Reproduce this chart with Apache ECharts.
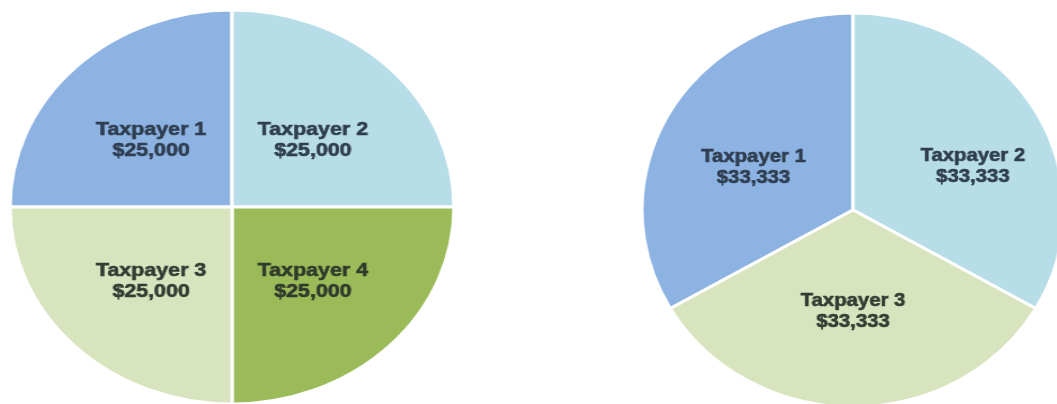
<!DOCTYPE html>
<html>
<head>
<meta charset="utf-8">
<script src="https://cdn.jsdelivr.net/npm/echarts@6/dist/echarts.min.js"></script>
<style>
  html, body { margin: 0; padding: 0; background: #ffffff; }
  body { width: 1057px; height: 404px; position: relative; overflow: hidden; }
  .pie { position: absolute; top: 0; width: 400px; height: 404px; transform-origin: 50% 50%; }
  #left { left: 32px; transform: scaleX(1.127); }
  #right { left: 653px; transform: scaleX(1.071); }
</style>
</head>
<body>
<div id="left" class="pie"></div>
<div id="right" class="pie"></div>
<script>
// Left chart: four taxpayers (clockwise display order from top-left)
const leftNames = ['Taxpayer 1', 'Taxpayer 2', 'Taxpayer 4', 'Taxpayer 3'];
const leftValues = [25000, 25000, 25000, 25000];

// Right chart: three taxpayers
const rightNames = ['Taxpayer 1', 'Taxpayer 2', 'Taxpayer 3'];
const rightValues = [33333, 33333, 33333];

// Styles (kept apart from data)
const leftStyle = {
  colors: ['#8db3e2', '#b7dde8', '#9bbb59', '#d7e4bd'],
  labelColors: ['#2e3d4f', '#2e3d4f', '#2f3a2c', '#333b33'],
  offsets: [[0, 5], [0, 5], [0, 2], [0, 2]]
};
const rightStyle = {
  colors: ['#8db3e2', '#b7dde8', '#d7e4bd'],
  labelColors: ['#2e3d4f', '#2e3d4f', '#333b33'],
  offsets: [[-5, 8], [24, 7], [0, 0]]
};

function fmt(v) { return '$' + v.toLocaleString('en-US'); }

function buildOption(names, values, style, centerY, startAngle) {
  return {
    backgroundColor: '#ffffff',
    animation: false,
    series: [{
      type: 'pie',
      center: ['50%', centerY],
      radius: 197,
      startAngle: startAngle,
      clockwise: true,
      avoidLabelOverlap: false,
      itemStyle: { borderColor: '#ffffff', borderWidth: 3 },
      label: {
        show: true,
        position: 'inside',
        fontFamily: 'Liberation Sans, Arial, sans-serif',
        fontWeight: 'bold',
        fontSize: 19,
        lineHeight: 21,
        textBorderWidth: 0.6,
        formatter: p => p.name + '\n' + fmt(p.value)
      },
      labelLine: { show: false },
      emphasis: { disabled: true },
      data: names.map((n, i) => ({
        name: n,
        value: values[i],
        itemStyle: { color: style.colors[i] },
        label: {
          color: style.labelColors[i],
          textBorderColor: style.labelColors[i],
          offset: style.offsets[i]
        }
      }))
    }]
  };
}

const leftChart = echarts.init(document.getElementById('left'), null, { renderer: 'canvas' });
leftChart.setOption(buildOption(leftNames, leftValues, leftStyle, 207, 180));

const rightChart = echarts.init(document.getElementById('right'), null, { renderer: 'canvas' });
rightChart.setOption(buildOption(rightNames, rightValues, rightStyle, 210, 210));
</script>
</body>
</html>
